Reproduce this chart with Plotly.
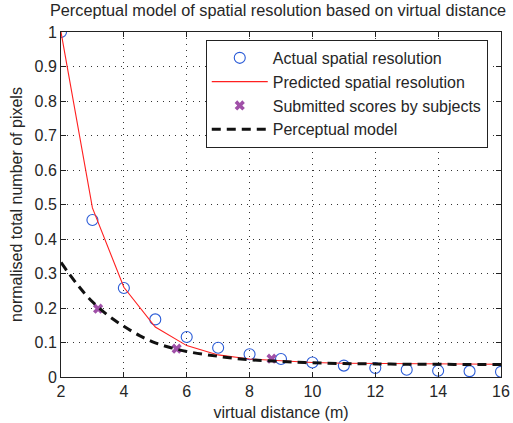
import plotly.graph_objects as go

# Actual spatial resolution (circles)
actual_x = [2, 3, 4, 5, 6, 7, 8, 9, 10, 11, 12, 13, 14, 15, 16]
actual_y = [1.0, 0.455, 0.258, 0.167, 0.116, 0.085, 0.066, 0.052, 0.042, 0.033, 0.026, 0.021, 0.018, 0.017, 0.015]

# Predicted spatial resolution (red line)
pred_x = [2, 3, 4, 5, 6, 7, 8, 9, 10, 11, 12, 13, 14, 15, 16]
pred_y = [1.0, 0.49, 0.26, 0.145, 0.091, 0.064, 0.052, 0.046, 0.042, 0.040, 0.039, 0.038, 0.038, 0.037, 0.037]

# Submitted scores by subjects
subj_x = [3.18, 5.68, 8.7]
subj_y = [0.198, 0.082, 0.053]

# Perceptual model (dashed)
model_x = [2, 2.5, 3, 3.5, 4, 4.5, 5, 5.5, 6, 7, 8, 9, 10, 11, 12, 13, 14, 15, 16]
model_y = [0.332, 0.27, 0.218, 0.178, 0.147, 0.12, 0.099, 0.085, 0.074, 0.06, 0.05, 0.045, 0.041, 0.039, 0.038, 0.037, 0.037, 0.036, 0.036]

x_ticks = [2, 4, 6, 8, 10, 12, 14, 16]
y_ticks = [0, 0.1, 0.2, 0.3, 0.4, 0.5, 0.6, 0.7, 0.8, 0.9, 1]
y_ticktext = ["0", "0.1", "0.2", "0.3", "0.4", "0.5", "0.6", "0.7", "0.8", "0.9", "1"]

FONT = "Liberation Sans, Arial, Helvetica, sans-serif"
TXT = "#262626"
FS = 16

fig = go.Figure()
fig.add_trace(go.Scatter(
    x=actual_x, y=actual_y, mode="markers", name="Actual spatial resolution",
    marker=dict(symbol="circle-open", size=11, color="#2a5bd7", line=dict(width=1.1)),
))
fig.add_trace(go.Scatter(
    x=pred_x, y=pred_y, mode="lines", name="Predicted spatial resolution",
    line=dict(color="#ff2020", width=1.1),
))
fig.add_trace(go.Scatter(
    x=subj_x, y=subj_y, mode="markers", name="Submitted scores by subjects",
    marker=dict(symbol="x", size=9, color="#a050a8", line=dict(width=0)),
))
fig.add_trace(go.Scatter(
    x=model_x, y=model_y, mode="lines", name="Perceptual model", line_shape="spline",
    line=dict(color="#111111", width=3, dash="9px,6px"),
))

axis_common = dict(
    showline=True, linecolor="#222222", linewidth=1, mirror="ticks",
    ticks="inside", ticklen=5, tickcolor="#222222",
    showgrid=True, gridcolor="#333333", gridwidth=1, griddash="1px,5px",
    zeroline=False, tickfont=dict(size=FS, color=TXT, family=FONT),
    automargin=False,
)

fig.update_xaxes(range=[2, 16], tickvals=x_ticks,
                 title=dict(text="virtual distance (m)", font=dict(size=FS, color=TXT, family=FONT), standoff=7),
                 **axis_common)
fig.update_yaxes(range=[0, 1], tickvals=y_ticks, ticktext=y_ticktext,
                 title=dict(text="normalised total number of pixels", font=dict(size=FS, color=TXT, family=FONT), standoff=7),
                 **axis_common)

fig.update_layout(
    width=513, height=423,
    margin=dict(l=61, r=12, t=32, b=46),
    paper_bgcolor="white", plot_bgcolor="white",
    font=dict(family=FONT, size=FS, color=TXT),
    title=dict(text="Perceptual model of spatial resolution based on virtual distance",
               x=0.542, xanchor="center", y=0.988, yanchor="top",
               font=dict(size=16.3, color=TXT, family=FONT)),
    showlegend=True,
    legend=dict(x=0.329, y=0.977, xanchor="left", yanchor="top",
                bgcolor="white", bordercolor="#222222", borderwidth=1,
                font=dict(size=FS, color=TXT, family=FONT),
                tracegroupgap=0, itemwidth=56),
)

fig.write_html(
    "out.html",
    config={"displayModeBar": False},
    post_script="document.body.style.margin='0';document.body.style.overflow='hidden';",
)
